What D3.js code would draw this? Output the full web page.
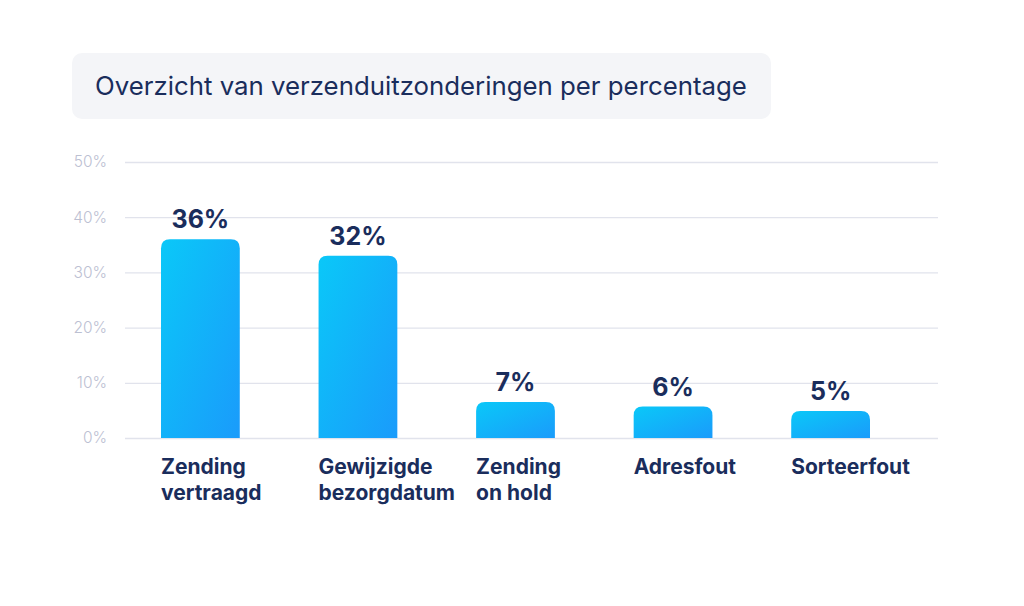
<!DOCTYPE html>
<html><head><meta charset="utf-8">
<script src="https://cdn.jsdelivr.net/npm/d3@7"></script>
<style>
html,body{margin:0;padding:0;background:#fff;}
svg{display:block;}
</style></head>
<body>
<svg id="chart" width="1024" height="606"></svg>
<script>
const title = "Overzicht van verzenduitzonderingen per percentage";
const categories = [["Zending","vertraagd"],["Gewijzigde","bezorgdatum"],["Zending","on hold"],["Adresfout"],["Sorteerfout"]];
const barValues = [36, 33, 6.5, 5.7, 4.9];
const valueLabels = ["36%","32%","7%","6%","5%"];
const yTicks = [0,10,20,30,40,50];

const svg = d3.select("#chart");
const navy = "#1a2d5c";
const font = "Inter, 'Open Sans', sans-serif";

// title box
svg.append("rect").attr("x",72).attr("y",53).attr("width",699).attr("height",66)
  .attr("rx",10).attr("fill","#f4f5f8");
svg.append("text").attr("x",95).attr("y",95).text(title)
  .attr("font-family",font).attr("font-size",25.8)
  .attr("fill",navy);

const y = d3.scaleLinear().domain([0,50]).range([438,162]);
const x = d3.scaleBand().domain(d3.range(categories.length)).range([161,870]).paddingInner(0.5).paddingOuter(0);

// gradient
const defs = svg.append("defs");
const g = defs.append("linearGradient").attr("id","barGrad").attr("x1","0").attr("y1","0").attr("x2","1").attr("y2","1");
g.append("stop").attr("offset","0%").attr("stop-color","#0ac8f8");
g.append("stop").attr("offset","100%").attr("stop-color","#1a9bfb");

// grid
const axis = d3.axisLeft(y).tickValues(yTicks).tickFormat(d=>d+"%").tickSize(-(938-125)).tickPadding(18);
const ga = svg.append("g").attr("transform","translate(125,0)").call(axis);
ga.select(".domain").remove();
ga.selectAll(".tick line").attr("stroke","#e1e3ec").attr("stroke-width",1.3);
ga.selectAll(".tick text").attr("fill","#bcc0d2").attr("font-size",15.5)
  .attr("font-weight",300).attr("font-family",font);

// bars
const r = 9;
function barPath(x0,w,top,bottom){
  const rr = Math.min(r,(bottom-top));
  return `M${x0},${bottom}V${top+rr}Q${x0},${top} ${x0+rr},${top}H${x0+w-rr}Q${x0+w},${top} ${x0+w},${top+rr}V${bottom}Z`;
}
svg.append("g").selectAll("path").data(barValues).join("path")
  .attr("d",(d,i)=>barPath(x(i), x.bandwidth(), y(d), y(0)))
  .attr("fill","url(#barGrad)");

// value labels
svg.append("g").selectAll("text").data(barValues).join("text")
  .attr("x",(d,i)=>x(i)+x.bandwidth()/2).attr("y",d=>y(d)-11)
  .attr("text-anchor","middle").text((d,i)=>valueLabels[i])
  .attr("font-family",font).attr("font-weight",700)
  .attr("font-size",25).attr("fill",navy);

// category labels
const cl = svg.append("g").selectAll("text").data(categories).join("text")
  .attr("x",(d,i)=>x(i)).attr("y",474)
  .attr("font-family",font).attr("font-weight",700)
  .attr("font-size",21).attr("fill",navy);
cl.selectAll("tspan").data(d=>d).join("tspan")
  .attr("x",function(){return this.parentNode.getAttribute("x");})
  .attr("dy",(d,j)=>j===0?0:26).text(d=>d);
</script>
</body></html>
